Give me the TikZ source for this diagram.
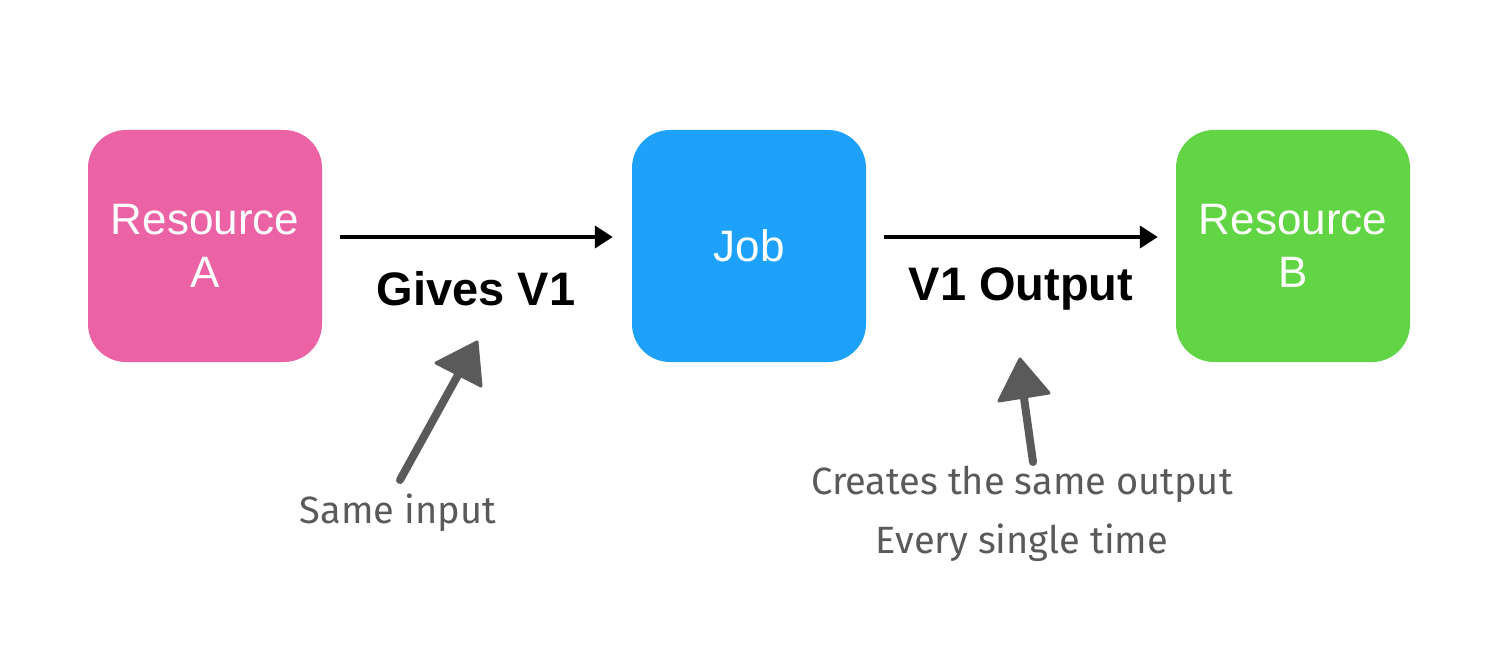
\documentclass[tikz,border=0pt]{standalone}
\usepackage{fontspec}
\setmainfont{Liberation Sans}
\newfontfamily\handfont{Fira Sans}
\usetikzlibrary{arrows.meta}
\definecolor{pinkA}{HTML}{EC63A5}
\definecolor{blueJ}{HTML}{1DA1FB}
\definecolor{greenB}{HTML}{62D544}
\definecolor{sketch}{HTML}{5A5A5A}
\tikzset{
  res/.style={minimum width=234pt, minimum height=232pt, rounded corners=38pt, inner sep=0pt,
    text=white, align=center, font=\fontsize{44}{53}\selectfont},
  flow/.style={line width=4pt, -{Triangle[length=18pt,width=22pt]}},
  flowlabel/.style={font=\fontsize{47}{53}\selectfont\bfseries, inner sep=0pt},
  handline/.style={draw=sketch, line width=8pt, line cap=round},
  handhead/.style={fill=sketch, draw=sketch, line width=3pt, line join=round},
  handtext/.style={text=sketch, font=\handfont\fontsize{38}{44}\selectfont, inner sep=0pt, anchor=base}
}
\begin{document}
\begin{tikzpicture}[x=1pt,y=-1pt]
\useasboundingbox (0,0) rectangle (1496,650);
\node[res, fill=pinkA] (A) at (205,246) {Resource\\A};
\node[res, fill=blueJ] (J) at (749,246) {Job};
\node[res, fill=greenB] (B) at (1293,246) {Resource\\B};
\draw[flow] ([xshift=18pt,yshift=9pt]A.east) -- ([xshift=-19pt,yshift=9pt]J.west);
\draw[flow] ([xshift=18pt,yshift=9pt]J.east) -- ([xshift=-18pt,yshift=9pt]B.west);
\node[flowlabel] (L1) at (476,289) {Gives V1};
\node[flowlabel] (L2) at (1021,289) {V1 Output};
% sketch arrow 1
\coordinate (t1) at (400,480);
\coordinate (b1) at (458,375);
\coordinate (p1) at (477,342);
\coordinate (c1a) at (436,363);
\coordinate (c1b) at (481,386);
\draw[handline] (t1) -- (b1);
\draw[handhead] (p1) -- (c1a) -- (c1b) -- cycle;
% sketch arrow 2
\coordinate (t2) at (1033,462);
\coordinate (b2) at (1024,398);
\coordinate (p2) at (1020,359);
\coordinate (c2a) at (999,401);
\coordinate (c2b) at (1049,393);
\draw[handline] (t2) -- (b2);
\draw[handhead] (p2) -- (c2a) -- (c2b) -- cycle;
\node[handtext] (h1) at (398,523) {Same input};
\node[handtext] (h2) at (1022,494) {Creates the same output};
\node[handtext] (h3) at (1022,553) {Every single time};
\end{tikzpicture}
\end{document}
